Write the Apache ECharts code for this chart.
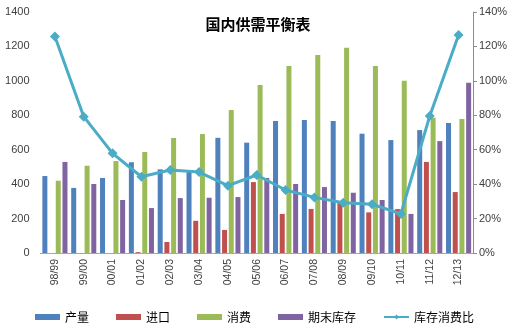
<!DOCTYPE html>
<html>
<head>
<meta charset="utf-8">
<script src="https://cdn.jsdelivr.net/npm/echarts@6/dist/echarts.min.js"></script>
<style>html,body{margin:0;padding:0;background:#fff;}#c{width:516px;height:336px;}</style>
</head>
<body>
<div id="c"></div>
<script>
var categories = ['98/99','99/00','00/01','01/02','02/03','03/04','04/05','05/06','06/07','07/08','08/09','09/10','10/11','11/12','12/13'];
var production = [447, 378, 436, 527, 486, 480, 669, 641, 767, 773, 767, 693, 656, 714, 755];
var imports    = [0, 0, 0, 5, 64, 187, 134, 412, 227, 256, 302, 236, 255, 529, 354];
var consumption= [420, 507, 534, 587, 668, 691, 831, 976, 1086, 1150, 1193, 1086, 1001, 785, 778];
var endStock   = [529, 401, 308, 261, 319, 321, 325, 436, 401, 383, 350, 308, 227, 650, 989];
var stockRatio = [1.257, 0.792, 0.579, 0.443, 0.482, 0.470, 0.391, 0.453, 0.366, 0.323, 0.292, 0.283, 0.227, 0.796, 1.266];
var leftTicks = {min: 0, max: 1400, interval: 200};
var rightTicks = {min: 0, max: 1.4, interval: 0.2};

var font = 'Liberation Sans, Noto Sans CJK SC, sans-serif';
var chart = echarts.init(document.getElementById('c'), null, {renderer: 'canvas'});
function bar(name, data, color) {
  return {name: name, type: 'bar', data: data, yAxisIndex: 0, barWidth: 5, barGap: '34%',
    itemStyle: {color: color}, animation: false};
}
chart.setOption({
  animation: false,
  title: {text: '国内供需平衡表', left: 'center', top: 12,
    textStyle: {fontFamily: 'Noto Sans CJK SC', fontSize: 15, fontWeight: 'bold', color: '#000'}},
  grid: {left: 40.5, right: 43, top: 12, bottom: 83},
  legend: {left: 30, top: 306, itemWidth: 25, itemHeight: 6, itemGap: 27,
    textStyle: {fontFamily: 'Noto Sans CJK SC', fontSize: 12, color: '#000'},
    data: [{name: '产量', icon: 'rect'}, {name: '进口', icon: 'rect'}, {name: '消费', icon: 'rect'}, {name: '期末库存', icon: 'rect'}, {name: '库存消费比'}]},
  xAxis: {type: 'category', data: categories,
    axisLine: {lineStyle: {color: '#a6a6a6'}}, axisTick: {show: false},
    axisLabel: {rotate: 90, fontFamily: font, fontSize: 10.5, color: '#404040', margin: 6}},
  yAxis: [
    {type: 'value', min: leftTicks.min, max: leftTicks.max, interval: leftTicks.interval,
      splitLine: {show: false}, axisLine: {show: false}, axisTick: {show: false},
      axisLabel: {fontFamily: font, fontSize: 11, color: '#404040', margin: 11,
        formatter: function (v) { return String(v); }}},
    {type: 'value', min: rightTicks.min, max: rightTicks.max, interval: rightTicks.interval, position: 'right',
      splitLine: {show: false}, axisLine: {show: true, lineStyle: {color: '#8c8c8c'}},
      axisTick: {show: true, length: 4, lineStyle: {color: '#8c8c8c'}},
      axisLabel: {fontFamily: font, fontSize: 11, color: '#404040', margin: 6,
        formatter: function (v) { return Math.round(v * 100) + '%'; }}}
  ],
  series: [
    bar('产量', production, '#4F81BD'),
    bar('进口', imports, '#C0504D'),
    bar('消费', consumption, '#9BBB59'),
    bar('期末库存', endStock, '#8064A2'),
    {name: '库存消费比', type: 'line', yAxisIndex: 1, data: stockRatio,
      symbol: 'diamond', symbolSize: 10, lineStyle: {color: '#4BACC6', width: 3},
      itemStyle: {color: '#4BACC6'}, z: 5}
  ]
});
</script>
</body>
</html>
